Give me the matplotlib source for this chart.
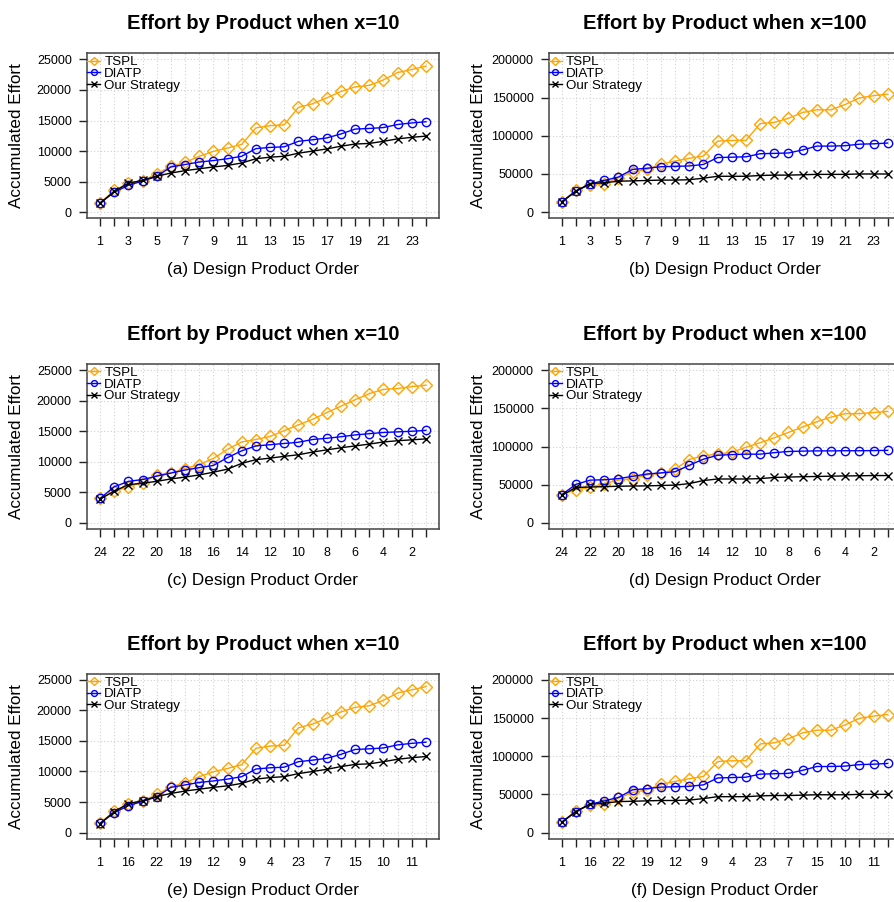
import numpy as np
import matplotlib
matplotlib.use("Agg")
import matplotlib.pyplot as plt

plt.rcParams['font.family'] = ['Liberation Sans', 'DejaVu Sans']

# product positions 1..24
pos = np.arange(1, 25)

# x = 10, sequential order (also used for random order panel)
tspl_10 = [1500, 3550, 4700, 5150, 6250, 7500, 8150, 9150, 9950, 10500, 11100, 13800,
           14150, 14300, 17150, 17750, 18700, 19750, 20500, 20750, 21650, 22850, 23350, 23900]
diatp_10 = [1500, 3250, 4400, 5100, 5850, 7400, 7800, 8200, 8450, 8750, 9150, 10400,
            10600, 10700, 11600, 11850, 12150, 12800, 13600, 13700, 13850, 14350, 14600, 14800]
ours_10 = [1450, 3400, 4750, 5200, 5900, 6400, 6800, 7100, 7400, 7650, 8050, 8750,
           9000, 9150, 9650, 10000, 10350, 10800, 11150, 11250, 11600, 12000, 12250, 12450]

# x = 100, sequential order (also used for random order panel)
tspl_100 = [13500, 28800, 35500, 37500, 45000, 52500, 56000, 63000, 67000, 70500, 73500, 93000,
            94000, 94000, 116000, 117500, 123000, 130500, 134000, 134000, 141000, 149500, 152500, 154500]
diatp_100 = [13500, 27500, 37000, 41500, 46000, 56000, 57500, 59500, 60000, 60500, 62500, 71500,
             72000, 72500, 76500, 77000, 77500, 81500, 86500, 86500, 87000, 89000, 89500, 90500]
ours_100 = [13500, 27500, 37500, 38500, 40500, 41000, 41500, 42000, 42000, 42500, 44500, 47000,
            47000, 47000, 48000, 48500, 48500, 49000, 49500, 49500, 49500, 50000, 50000, 50000]

# x = 10, reverse order
tspl_10r = [4000, 5200, 5900, 6600, 7800, 8200, 8900, 9550, 10550, 12050, 13250, 13650,
            14150, 15100, 16050, 16950, 18050, 19100, 20150, 21150, 21850, 22000, 22300, 22550]
diatp_10r = [4000, 5900, 6800, 7100, 7650, 8150, 8650, 9050, 9400, 10700, 11800, 12600,
             12800, 13000, 13200, 13650, 13850, 14100, 14400, 14600, 14800, 14900, 15000, 15150]
ours_10r = [3900, 5200, 6250, 6500, 6800, 7200, 7500, 7850, 8300, 8800, 9750, 10350,
            10600, 10900, 11150, 11600, 11950, 12300, 12600, 12900, 13250, 13450, 13600, 13750]

# x = 100, reverse order
tspl_100r = [37000, 43500, 46500, 51500, 56000, 58000, 63000, 65000, 70500, 83000, 88000, 90000,
             92500, 99000, 105000, 111500, 118500, 125500, 132500, 138500, 143000, 143000, 144500, 146000]
diatp_100r = [37000, 50500, 56000, 56500, 58000, 61000, 64000, 65500, 67000, 75500, 83500, 88500,
              89500, 90000, 90000, 92000, 93500, 94000, 94300, 94300, 94500, 94500, 94700, 95000]
ours_100r = [36000, 46500, 47000, 47500, 48000, 48300, 48500, 49000, 49500, 51500, 55500, 57500,
             57500, 57500, 58000, 59500, 60000, 60500, 60800, 61200, 61500, 61700, 62000, 62000]

labels_seq = ["1", "3", "5", "7", "9", "11", "13", "15", "17", "19", "21", "23"]
labels_rev = ["24", "22", "20", "18", "16", "14", "12", "10", "8", "6", "4", "2"]
labels_rand = ["1", "16", "22", "19", "12", "9", "4", "23", "7", "15", "10", "11"]

yticks_10 = [0, 5000, 10000, 15000, 20000, 25000]
yticks_100 = [0, 50000, 100000, 150000, 200000]

titles = ["Effort by Product when x=10", "Effort by Product when x=100"]

panels = [
    ("a", titles[0], tspl_10, diatp_10, ours_10, labels_seq, yticks_10),
    ("b", titles[1], tspl_100, diatp_100, ours_100, labels_seq, yticks_100),
    ("c", titles[0], tspl_10r, diatp_10r, ours_10r, labels_rev, yticks_10),
    ("d", titles[1], tspl_100r, diatp_100r, ours_100r, labels_rev, yticks_100),
    ("e", titles[0], tspl_10, diatp_10, ours_10, labels_rand, yticks_10),
    ("f", titles[1], tspl_100, diatp_100, ours_100, labels_rand, yticks_100),
]

fig = plt.figure(figsize=(8.95, 9.02), dpi=100)

lefts = [0.0972, 0.6131]
bottoms = [0.758, 0.4135, 0.0702]
w, h = 0.3933, 0.1829

for i, (tag, title, tspl, diatp, ours, xlabels, yticks) in enumerate(panels):
    ax = fig.add_axes([lefts[i % 2], bottoms[i // 2], w, h])

    ax.plot(pos, tspl, color="#FFA500", lw=1.0, marker="D", ms=6, mfc="none", mew=1.0, label="TSPL")
    ax.plot(pos, diatp, color="#0000FF", lw=1.0, marker="o", ms=6, mfc="none", mew=1.0, label="DIATP")
    ax.plot(pos, ours, color="black", lw=1.0, marker="x", ms=5.5, mew=1.0, label="Our Strategy")

    ymax = yticks[-1]
    ext = 0.04 * ymax
    ax.set_ylim(-ext, ymax + ext)
    ax.set_xlim(1 - 0.92, 24 + 0.92)

    ax.set_yticks(yticks)
    ax.set_xticks(pos)
    full = [""] * 24
    full[::2] = xlabels
    ax.set_xticklabels(full)

    ax.grid(True, color="#d0d0d0", ls=(0, (1, 2)), lw=0.8)
    ax.set_axisbelow(True)
    for s in ax.spines.values():
        s.set_color("#444444")
        s.set_linewidth(1.1)
    ax.tick_params(axis="x", length=6, width=1, pad=7, labelsize=9, color="#222222")
    ax.tick_params(axis="y", length=6, width=1, pad=5, labelsize=9, color="#222222")

    ax.text(0.5, 1.18, title, transform=ax.transAxes, ha="center", va="center",
            fontsize=14.5, fontweight="bold")
    ax.set_xlabel("(%s) Design Product Order" % tag, fontsize=12.3, va="center")
    ax.xaxis.set_label_coords(0.5, -0.313)
    ax.set_ylabel("Accumulated Effort", fontsize=12.3, va="center")
    ax.yaxis.set_label_coords(-0.2, 0.5)

    ax.legend(loc="upper left", bbox_to_anchor=(-0.008, 1.0), frameon=False, fontsize=9.6,
              borderaxespad=0.0, borderpad=0.2, handlelength=1.0, handletextpad=0.3,
              labelspacing=-0.05, markerscale=0.7)

fig.savefig("out.png", dpi=100)
